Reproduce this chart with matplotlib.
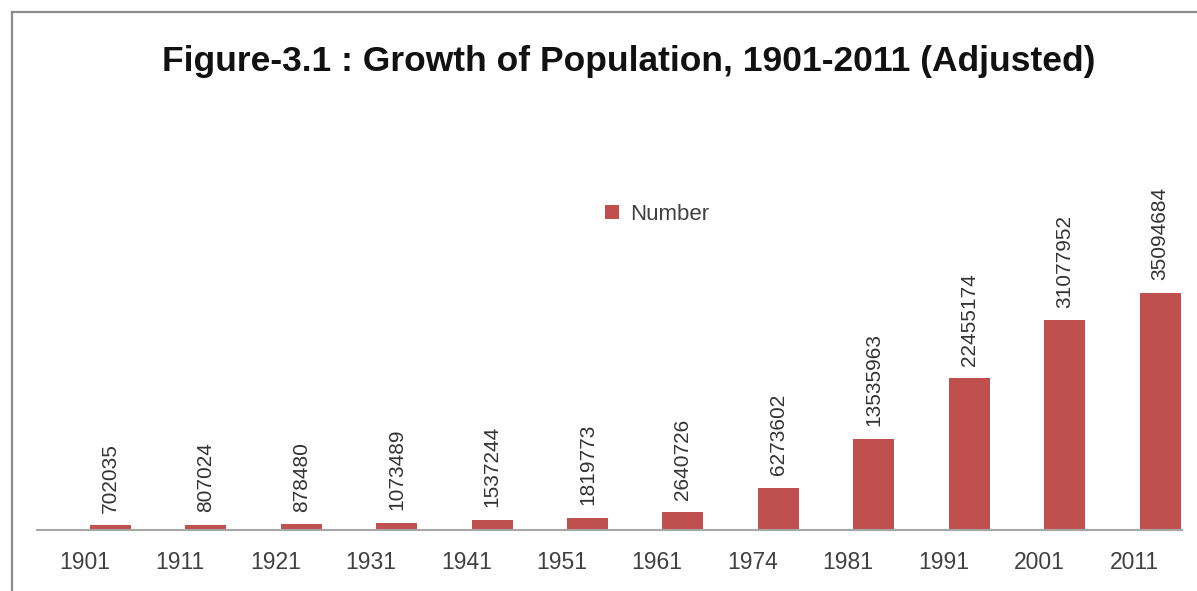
import matplotlib
matplotlib.use("Agg")
import matplotlib.pyplot as plt
from matplotlib.lines import Line2D

years = ["1901", "1911", "1921", "1931", "1941", "1951", "1961", "1974", "1981", "1991", "2001", "2011"]
population = [702035, 807024, 878480, 1073489, 1537244, 1819773, 2640726, 6273602, 13535963, 22455174, 31077952, 35094684]
series_name = "Number"
title = "Figure-3.1 : Growth of Population, 1901-2011 (Adjusted)"

W, H = 1197, 591
fig = plt.figure(figsize=(W / 100, H / 100), dpi=100)
fig.patch.set_facecolor("white")

# frame lines (top and left)
fig.add_artist(Line2D([12 / W, 12 / W], [0, 1 - 12 / H], color="#8c8c8c", lw=1.6, transform=fig.transFigure))
fig.add_artist(Line2D([12 / W, 1], [1 - 12 / H, 1 - 12 / H], color="#8c8c8c", lw=1.6, transform=fig.transFigure))

left, right, bottom, top = 37, 1182, 530, 150
ax = fig.add_axes([left / W, (H - bottom) / H, (right - left) / W, (bottom - top) / H])
ax.set_xlim(-0.5, len(years) - 0.5)
ax.set_ylim(0, (bottom - top) * 148000)

xs = list(range(len(years)))
color = "#C0504D"
bars = ax.bar([x + 0.27 for x in xs], population, width=0.43, color=color, label=series_name, zorder=2)
for x, v in zip(xs, population):
    ax.annotate(str(v), (x + 0.27, v), xytext=(0, 9), textcoords="offset points",
                rotation=90, ha="center", va="bottom", fontsize=15,
                family="Liberation Sans", color="#333333")

for s in ["top", "right", "left"]:
    ax.spines[s].set_visible(False)
ax.spines["bottom"].set_color("#a6a6a6")
ax.spines["bottom"].set_linewidth(1.5)
ax.set_yticks([])
ax.set_xticks(xs)
ax.set_xticklabels(years, fontsize=16.5, family="Liberation Sans", color="#404040")
ax.tick_params(axis="x", length=0, pad=15)

fig.text(629 / W, 1 - 61 / H, title, ha="center", va="center", fontsize=25.5,
         fontweight="bold", family="Liberation Sans", color="#111111")

leg = fig.legend(handles=[bars], labels=[series_name], loc="center",
                 bbox_to_anchor=(657 / W, 1 - 214 / H), frameon=False,
                 prop={"family": "Liberation Sans", "size": 16}, handlelength=0.6,
                 handleheight=0.6, handletextpad=0.5, labelcolor="#404040")

fig.savefig("out.png", dpi=100, facecolor="white")
